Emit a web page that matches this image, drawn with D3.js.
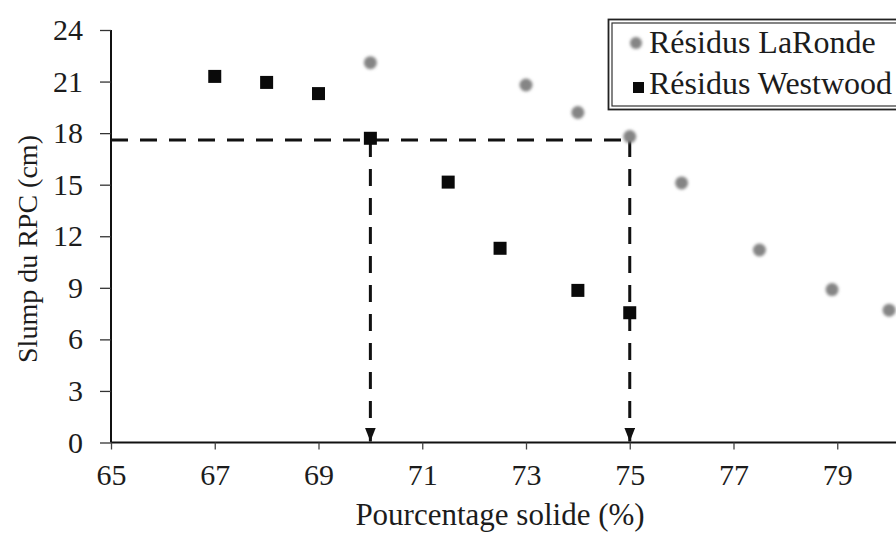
<!DOCTYPE html>
<html>
<head>
<meta charset="utf-8">
<script src="https://cdn.jsdelivr.net/npm/d3@7"></script>
<style>
  html, body { margin: 0; padding: 0; background: #fff; }
  svg { display: block; }
  svg text { font-family: "Liberation Serif", "Times New Roman", serif !important; }
</style>
</head>
<body>
<svg id="chart" width="896" height="538" font-family="Liberation Serif"></svg>
<script>
// Slump test results: solid percentage (%) vs slump (cm)
const laRondeSolids = [70, 73, 74, 75, 76, 77.5, 78.9, 80];
const laRondeSlump  = [22.1, 20.8, 19.2, 17.8, 15.1, 11.2, 8.9, 7.7];
const westwoodSolids = [67, 68, 69, 70, 71.5, 72.5, 74, 75];
const westwoodSlump  = [21.3, 20.95, 20.3, 17.7, 15.15, 11.3, 8.85, 7.55];

// Reading lines: target slump and the two solid percentages it gives
const targetSlump = 17.6;
const targetSolids = [70, 75];

const xTicks = [65, 67, 69, 71, 73, 75, 77, 79];
const yTicks = [0, 3, 6, 9, 12, 15, 18, 21, 24];

const seriesNames = ["Résidus LaRonde", "Résidus Westwood"];
const xTitle = "Pourcentage solide (%)";
const yTitle = "Slump du RPC (cm)";

const FONT = '"Liberation Serif", "Times New Roman", serif';
const INK = "#1c1c1c";

const svg = d3.select("#chart");

function serif(sel, size) {
  return sel.attr("font-family", "Liberation Serif")
    .style("font-family", FONT, "important")
    .attr("font-size", size).attr("fill", INK);
}

const plot = { left: 111, right: 941, top: 30, bottom: 442.5 };

const x = d3.scaleLinear().domain([65, 81]).range([plot.left, plot.right]);
const y = d3.scaleLinear().domain([0, 24]).range([plot.bottom, plot.top]);

const defs = svg.append("defs");
defs.append("filter").attr("id", "soft")
  .attr("x", "-50%").attr("y", "-50%").attr("width", "200%").attr("height", "200%")
  .append("feGaussianBlur").attr("stdDeviation", 1.8);

// Arrowhead drawn along the line direction (+x in marker space)
defs.append("marker")
  .attr("id", "arrow")
  .attr("viewBox", "0 0 14 11")
  .attr("refX", 14).attr("refY", 5.5)
  .attr("markerWidth", 14).attr("markerHeight", 11)
  .attr("markerUnits", "userSpaceOnUse")
  .attr("orient", "auto")
  .append("path").attr("d", "M0,0 L14,5.5 L0,11 Z").attr("fill", "#111");

// Y axis
const yAxis = svg.append("g")
  .attr("transform", `translate(${plot.left},0)`)
  .call(d3.axisLeft(y).tickValues(yTicks).tickSize(11).tickPadding(17).tickFormat(d3.format("d")));
yAxis.attr("font-family", "Liberation Serif");
yAxis.select(".domain").attr("stroke", "#111").attr("stroke-width", 2)
  .attr("d", `M0,${plot.top}V${plot.bottom}`);
yAxis.selectAll(".tick line").attr("stroke", "#333").attr("stroke-width", 1.3);
serif(yAxis.selectAll(".tick text"), 30);

// X axis
const xAxis = svg.append("g")
  .attr("transform", `translate(0,${plot.bottom})`)
  .call(d3.axisBottom(x).tickValues(xTicks).tickSize(7).tickPadding(14).tickFormat(d3.format("d")));
xAxis.attr("font-family", "Liberation Serif");
xAxis.select(".domain").attr("stroke", "#111").attr("stroke-width", 2)
  .attr("d", `M${plot.left},0H${plot.right}`);
xAxis.selectAll(".tick line").attr("stroke", "#444").attr("stroke-width", 1.3);
serif(xAxis.selectAll(".tick text"), 30);

// Axis titles
serif(svg.append("text")
  .attr("x", 500).attr("y", 525)
  .attr("text-anchor", "middle"), 31)
  .text(xTitle);

serif(svg.append("text")
  .attr("transform", `translate(37,249) rotate(-90)`)
  .attr("text-anchor", "middle"), 28)
  .text(yTitle);

// Dashed reading lines
const readG = svg.append("g").attr("fill", "none").attr("stroke", "#111")
  .attr("stroke-width", 3).attr("stroke-dasharray", "17 12");
readG.append("line")
  .attr("x1", x(65)).attr("x2", x(d3.max(targetSolids)))
  .attr("y1", y(targetSlump)).attr("y2", y(targetSlump));
targetSolids.forEach(s => {
  readG.append("line")
    .attr("x1", x(s)).attr("x2", x(s))
    .attr("y1", y(targetSlump)).attr("y2", y(0) - 1)
    .attr("marker-end", "url(#arrow)");
});

// LaRonde series: soft grey dots
svg.append("g").selectAll("circle")
  .data(laRondeSolids.map((s, i) => [s, laRondeSlump[i]]))
  .join("circle")
  .attr("cx", d => x(d[0])).attr("cy", d => y(d[1]))
  .attr("r", 6.5)
  .attr("fill", "#858585")
  .attr("filter", "url(#soft)");

// Westwood series: black squares
const sq = 13;
svg.append("g").selectAll("rect")
  .data(westwoodSolids.map((s, i) => [s, westwoodSlump[i]]))
  .join("rect")
  .attr("x", d => x(d[0]) - sq / 2).attr("y", d => y(d[1]) - sq / 2)
  .attr("width", sq).attr("height", sq)
  .attr("fill", "#0a0a0a");

// Legend with double border
const lg = svg.append("g");
lg.append("rect").attr("x", 608.5).attr("y", 19.5).attr("width", 320).attr("height", 90)
  .attr("fill", "#fff").attr("stroke", "#222").attr("stroke-width", 1.8);
lg.append("rect").attr("x", 612).attr("y", 23).attr("width", 320).attr("height", 83)
  .attr("fill", "none").attr("stroke", "#333").attr("stroke-width", 1.2);

lg.append("circle").attr("cx", 636).attr("cy", 43).attr("r", 6)
  .attr("fill", "#858585").attr("filter", "url(#soft)");
lg.append("rect").attr("x", 633).attr("y", 82).attr("width", 11).attr("height", 11)
  .attr("fill", "#0a0a0a");

serif(lg.append("text").attr("x", 649).attr("y", 53), 32).text(seriesNames[0]);
serif(lg.append("text").attr("x", 649).attr("y", 94), 32).text(seriesNames[1]);
</script>
</body>
</html>
